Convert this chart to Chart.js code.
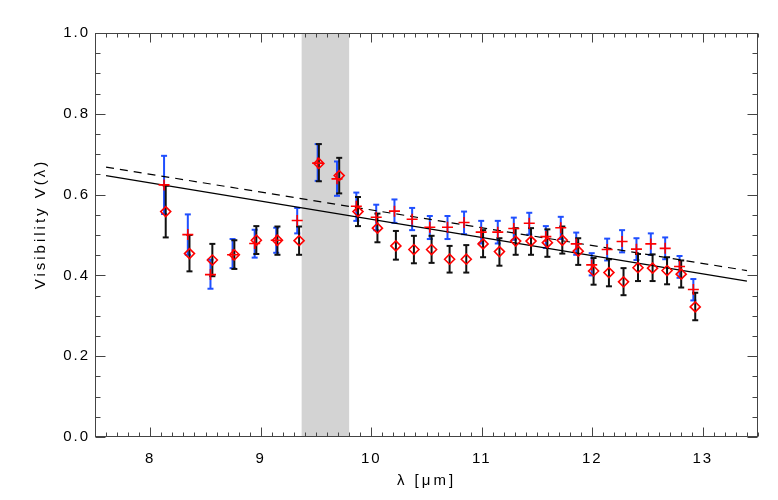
<!DOCTYPE html>
<html><head><meta charset="utf-8">
<script src="https://cdn.jsdelivr.net/npm/chart.js@4/dist/chart.umd.min.js"></script>
<style>html,body{margin:0;padding:0;background:#fff}#wrap{width:778px;height:500px}</style>
</head><body><div id="wrap"><canvas id="c" width="778" height="500"></canvas></div>
<script>
// Diamonds (red) with black error bars
const lambdaDiamond = [8.14,8.355,8.562,8.761,8.96,9.151,9.347,9.526,9.71,9.88,10.056,10.223,10.386,10.546,10.709,10.86,11.012,11.16,11.307,11.446,11.594,11.729,11.873,12.012,12.151,12.283,12.414,12.546,12.677,12.805,12.932];
const visDiamond = [0.558,0.454,0.438,0.451,0.487,0.487,0.486,0.677,0.647,0.558,0.517,0.473,0.464,0.464,0.440,0.440,0.478,0.459,0.485,0.485,0.481,0.487,0.460,0.411,0.407,0.384,0.419,0.418,0.412,0.403,0.322];
const errDiamondLo = [0.494,0.410,0.398,0.416,0.453,0.451,0.451,0.633,0.603,0.522,0.482,0.439,0.430,0.431,0.407,0.407,0.445,0.424,0.451,0.451,0.446,0.454,0.426,0.377,0.373,0.351,0.386,0.386,0.378,0.370,0.289];
const errDiamondHi = [0.622,0.500,0.478,0.487,0.522,0.521,0.521,0.725,0.691,0.594,0.553,0.510,0.498,0.498,0.473,0.475,0.512,0.492,0.517,0.517,0.514,0.521,0.492,0.443,0.440,0.418,0.453,0.452,0.445,0.437,0.357];
// Plus signs (red) with blue error bars
const lambdaPlus = [8.125,8.34,8.545,8.745,8.945,9.14,9.33,9.515,9.69,9.865,10.045,10.21,10.37,10.53,10.69,10.84,10.995,11.145,11.29,11.43,11.58,11.715,11.855,11.995,12.135,12.27,12.40,12.53,12.66,12.79,12.915];
const visPlus = [0.624,0.501,0.402,0.451,0.479,0.487,0.536,0.678,0.639,0.571,0.544,0.559,0.539,0.519,0.519,0.531,0.507,0.507,0.516,0.529,0.496,0.518,0.478,0.426,0.464,0.484,0.465,0.478,0.467,0.422,0.365];
const errPlusLo = [0.552,0.451,0.367,0.418,0.444,0.456,0.504,0.634,0.597,0.535,0.512,0.530,0.512,0.490,0.490,0.502,0.479,0.479,0.488,0.501,0.468,0.490,0.451,0.400,0.437,0.457,0.438,0.451,0.440,0.394,0.338];
const errPlusHi = [0.696,0.551,0.439,0.490,0.513,0.518,0.567,0.725,0.682,0.605,0.575,0.588,0.567,0.547,0.547,0.558,0.535,0.535,0.543,0.555,0.522,0.545,0.506,0.455,0.491,0.512,0.492,0.504,0.494,0.448,0.391];
// Model lines
const fitLambda = [7.6, 13.4];
const fitSolid = [0.647, 0.386];
const fitDashed = [0.668, 0.412];
// Shaded band
const bandLambda = [9.37, 9.80];
// Axes
const xTicks = [8, 9, 10, 11, 12, 13];
const yTicks = [0.0, 0.2, 0.4, 0.6, 0.8, 1.0];
const xTitle = 'λ [μm]';
const yTitle = 'Visibility V(λ)';

const FONT = 'Liberation Sans';

function pts(xs, ys){ return xs.map((x,i)=>({x:x, y:ys[i]})); }
function errData(xs, lo, hi){
  const d = [];
  xs.forEach((x,i)=>{ d.push({x:x,y:lo[i]}); d.push({x:x,y:hi[i]}); d.push({x:x,y:null}); });
  return d;
}

const framePlugin = {
  id: 'frame',
  beforeDraw(chart){
    try { chart.ctx.letterSpacing = '2px'; } catch(e) {}
  },
  beforeDatasetsDraw(chart){
    const {ctx, chartArea:a, scales:{x}} = chart;
    const x0 = x.getPixelForValue(bandLambda[0]), x1 = x.getPixelForValue(bandLambda[1]);
    ctx.save();
    ctx.fillStyle = '#d3d3d3';
    ctx.fillRect(x0, a.top, x1 - x0, a.bottom - a.top);
    ctx.restore();
  },
  afterDraw(chart){
    const {ctx, chartArea:a, scales:{x,y}} = chart;
    ctx.save();
    ctx.strokeStyle = '#444';
    ctx.lineWidth = 1;
    const L = Math.round(a.left)+0.5, R = Math.round(a.right)-0.5, T = Math.round(a.top)+0.5, B = Math.round(a.bottom)-0.5;
    ctx.strokeRect(L, T, R-L, B-T);
    ctx.beginPath();
    for (let i = 0; i <= 60; i++){
      const v = x.min + i*0.1;
      const px = Math.round(x.getPixelForValue(v)) + 0.5;
      const major = Math.abs(v - Math.round(v)) < 1e-6;
      const len = major ? 9 : 4;
      ctx.moveTo(px, B); ctx.lineTo(px, B - len);
      ctx.moveTo(px, T); ctx.lineTo(px, T + len);
    }
    for (let i = 0; i <= 20; i++){
      const v = i*0.05;
      const py = Math.round(y.getPixelForValue(v)) + 0.5;
      const major = i % 4 === 0;
      const len = major ? 10 : 5;
      ctx.moveTo(L, py); ctx.lineTo(L + len, py);
      ctx.moveTo(R, py); ctx.lineTo(R - len, py);
    }
    ctx.stroke();
    // axis titles
    ctx.fillStyle = '#000';
    ctx.font = '15px "' + FONT + '"';
    try { ctx.letterSpacing = '3px'; } catch(e) {}
    ctx.textAlign = 'center';
    ctx.textBaseline = 'middle';
    ctx.fillText(xTitle, (a.left + a.right)/2, 481);
    ctx.translate(41, 224);
    ctx.rotate(-Math.PI/2);
    ctx.fillText(yTitle, 0, 0);
    ctx.restore();
  }
};

new Chart(document.getElementById('c'), {
  type: 'scatter',
  data: {
    datasets: [
      { label: 'diamonds', data: pts(lambdaDiamond, visDiamond), pointStyle: 'rectRot', pointRadius: 5,
        borderColor: '#ff0000', backgroundColor: 'rgba(0,0,0,0)', pointBorderWidth: 1.6, showLine: false },
      { label: 'plus', data: pts(lambdaPlus, visPlus), pointStyle: 'cross', pointRadius: 5.5,
        borderColor: '#ff0000', pointBorderWidth: 1.6, showLine: false },
      { label: 'model', data: pts(fitLambda, fitSolid), showLine: true, pointRadius: 0,
        borderColor: '#000', borderWidth: 1.2 },
      { label: 'model dashed', data: pts(fitLambda, fitDashed), showLine: true, pointRadius: 0,
        borderColor: '#000', borderWidth: 1.2, borderDash: [8,6] },
      { label: 'err black', data: errData(lambdaDiamond, errDiamondLo, errDiamondHi), showLine: true, spanGaps: false,
        borderColor: '#111', borderWidth: 2, pointStyle: 'line', pointRadius: 3, pointBorderWidth: 2, pointBorderColor: '#111' },
      { label: 'err blue', data: errData(lambdaPlus, errPlusLo, errPlusHi), showLine: true, spanGaps: false,
        borderColor: '#1f4fff', borderWidth: 2, pointStyle: 'line', pointRadius: 3, pointBorderWidth: 2, pointBorderColor: '#1f4fff' }
    ]
  },
  options: {
    responsive: false,
    animation: false,
    devicePixelRatio: 1,
    layout: { padding: { top: 33, right: 20, left: 0, bottom: 0 } },
    plugins: { legend: { display: false }, tooltip: { enabled: false } },
    scales: {
      x: {
        type: 'linear', min: 7.5, max: 13.5,
        afterBuildTicks: s => { s.ticks = xTicks.map(v => ({value: v})); },
        afterFit: s => { s.height = 63; },
        grid: { display: false, drawTicks: false },
        border: { display: false },
        ticks: { color: '#000', font: { family: FONT, size: 15 }, padding: 13, maxRotation: 0,
          callback: v => String(v) }
      },
      y: {
        type: 'linear', min: 0, max: 1,
        afterBuildTicks: s => { s.ticks = yTicks.map(v => ({value: v})); },
        afterFit: s => { s.width = 95; },
        grid: { display: false, drawTicks: false },
        border: { display: false },
        ticks: { color: '#000', font: { family: FONT, size: 15 }, padding: 5,
          callback: v => Number(v).toFixed(1) }
      }
    }
  },
  plugins: [framePlugin]
});
</script>
</body></html>
